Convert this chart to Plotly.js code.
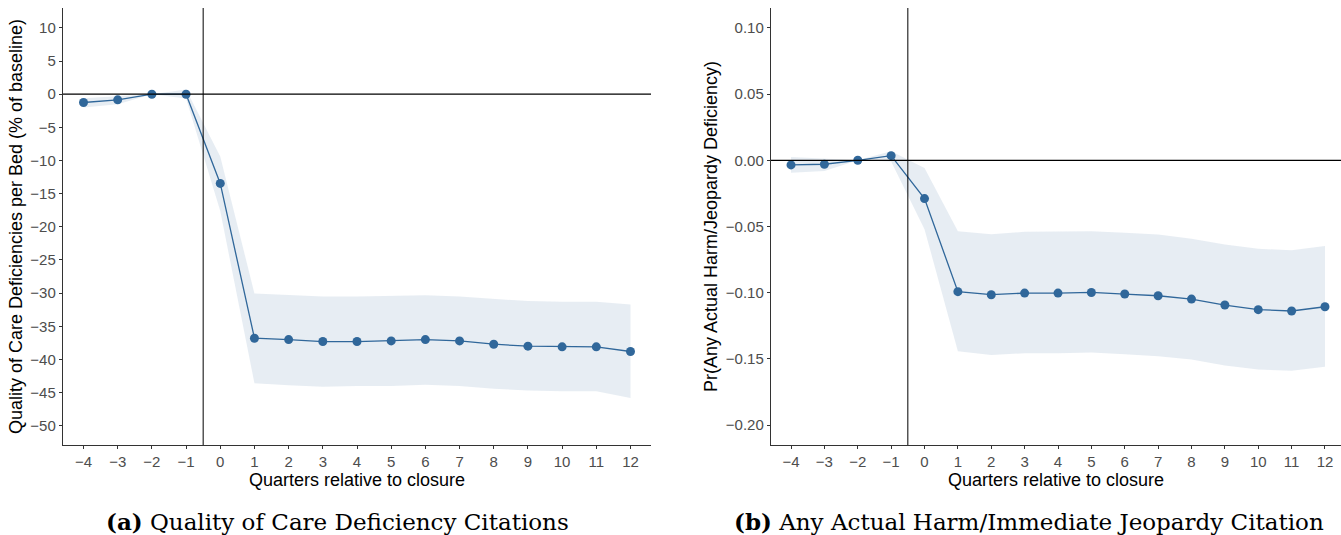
<!DOCTYPE html>
<html>
<head>
<meta charset="utf-8">
<script src="https://cdn.plot.ly/plotly-3.0.1.min.js"></script>
<style>html,body{margin:0;padding:0;background:#fff;}#chart{width:1341px;height:535px;}</style>
</head>
<body>
<div id="chart"></div>
<script>
// Event time (quarters relative to closure)
const quarters = [-4,-3,-2,-1,0,1,2,3,4,5,6,7,8,9,10,11,12];

// Panel (a): Quality of care deficiencies per bed (% of baseline)
const qocEst   = [-1.25,-0.85,0,0,-13.45,-36.8,-37.0,-37.3,-37.3,-37.2,-37.0,-37.2,-37.7,-38.0,-38.1,-38.1,-38.8];
const qocUpper = [-0.6,-0.3,0,0.7,-9.4,-30.05,-30.3,-30.5,-30.5,-30.4,-30.3,-30.5,-30.9,-31.2,-31.3,-31.3,-31.7];
const qocLower = [-2.0,-1.5,0,-0.65,-17.6,-43.6,-43.9,-44.1,-44.0,-44.0,-43.8,-44.0,-44.4,-44.7,-44.8,-44.8,-45.8];

// Panel (b): Pr(any actual harm / jeopardy deficiency)
const harmEst   = [-0.0035,-0.003,0,0.0035,-0.0289,-0.0992,-0.1015,-0.1003,-0.1003,-0.0998,-0.101,-0.1023,-0.1048,-0.1093,-0.1128,-0.1138,-0.1106];
const harmUpper = [0.0025,0.001,0,0.0068,-0.0058,-0.0535,-0.0558,-0.054,-0.0535,-0.0535,-0.0548,-0.056,-0.0593,-0.0636,-0.0668,-0.068,-0.0648];
const harmLower = [-0.0095,-0.008,0,-0.001,-0.052,-0.1442,-0.147,-0.1457,-0.1457,-0.1452,-0.1465,-0.148,-0.1505,-0.155,-0.158,-0.159,-0.156];

const leftTicks = [10,5,0,-5,-10,-15,-20,-25,-30,-35,-40,-45,-50];
const rightTicks = [0.10,0.05,0.00,-0.05,-0.10,-0.15,-0.20];

const lineCol = '#30679a';
const bandCol = 'rgba(196,211,224,0.4)';

function panel(est, up, lo, xa, ya) {
  return [
    {x: quarters, y: up, xaxis: xa, yaxis: ya, mode: 'lines', line: {width: 0, color: bandCol}, hoverinfo: 'skip', showlegend: false},
    {x: quarters, y: lo, xaxis: xa, yaxis: ya, mode: 'lines', fill: 'tonexty', fillcolor: bandCol, line: {width: 0, color: bandCol}, hoverinfo: 'skip', showlegend: false},
    {x: quarters, y: est, xaxis: xa, yaxis: ya, mode: 'lines+markers', line: {color: lineCol, width: 1.3}, marker: {color: lineCol, size: 9}, showlegend: false}
  ];
}

const data = panel(qocEst, qocUpper, qocLower, 'x', 'y').concat(panel(harmEst, harmUpper, harmLower, 'x2', 'y2'));

const tickFont = {family: 'Liberation Sans, Arial, sans-serif', size: 15, color: '#4d4d4d'};
const titleFont = {family: 'Liberation Sans, Arial, sans-serif', size: 18, color: '#000'};
const yDom = [1 - 445/535, 1 - 8/535];

function xAxis(dom, range, anchor) {
  return {domain: dom, range: range, anchor: anchor, tickmode: 'array', tickvals: quarters, ticktext: quarters.map(v => v < 0 ? '\u2212' + Math.abs(v) : String(v)),
    showgrid: false, zeroline: false, showline: true, linecolor: '#333', linewidth: 1.2, ticks: 'outside', ticklen: 3, tickcolor: '#333',
    tickfont: tickFont, title: {text: 'Quarters relative to closure', font: titleFont, standoff: 0}};
}
function yAxis(range, ticks, fmt, title, anchor) {
  return {domain: yDom, range: range, anchor: anchor, tickmode: 'array', tickvals: ticks,
    ticktext: ticks.map(v => (v < 0 ? '\u2212' : '') + (fmt ? Math.abs(v).toFixed(2) : String(Math.abs(v)))),
    showgrid: false, zeroline: false, showline: true, linecolor: '#333', linewidth: 1.2, ticks: 'outside', ticklen: 3, tickcolor: '#333',
    tickfont: tickFont, title: {text: title, font: titleFont, standoff: 3}};
}

const layout = {
  width: 1341, height: 535,
  margin: {l: 0, r: 0, t: 0, b: 0},
  paper_bgcolor: '#fff', plot_bgcolor: '#fff',
  xaxis: xAxis([63/1341, 651/1341], [-4.6, 12.6], 'y'),
  yaxis: yAxis([-52.9, 13.0], leftTicks, false, 'Quality of Care Deficiencies per Bed (% of baseline)', 'x'),
  xaxis2: xAxis([771/1341, 1], [-4.6, 12.48], 'y2'),
  yaxis2: yAxis([-0.215, 0.115], rightTicks, true, 'Pr(Any Actual Harm/Jeopardy Deficiency)', 'x2'),
  shapes: [
    {type: 'line', xref: 'x', yref: 'y', x0: -4.6, x1: 12.6, y0: 0, y1: 0, line: {color: '#000', width: 1.2}},
    {type: 'line', xref: 'x', yref: 'y', x0: -0.5, x1: -0.5, y0: -52.9, y1: 13.0, line: {color: '#000', width: 1}},
    {type: 'line', xref: 'x2', yref: 'y2', x0: -4.6, x1: 12.48, y0: 0, y1: 0, line: {color: '#000', width: 1.2}},
    {type: 'line', xref: 'x2', yref: 'y2', x0: -0.5, x1: -0.5, y0: -0.215, y1: 0.115, line: {color: '#000', width: 1}}
  ],
  annotations: [
    {xref: 'paper', yref: 'paper', x: 337/1341, y: 1 - 521/535, xanchor: 'center', yanchor: 'middle', showarrow: false,
     text: '<b>(a)</b> Quality of Care Deficiency Citations', font: {family: 'DejaVu Serif, Liberation Serif, serif', size: 23, color: '#000'}},
    {xref: 'paper', yref: 'paper', x: 1029/1341, y: 1 - 521/535, xanchor: 'center', yanchor: 'middle', showarrow: false,
     text: '<b>(b)</b> Any Actual Harm/Immediate Jeopardy Citation', font: {family: 'DejaVu Serif, Liberation Serif, serif', size: 23, color: '#000'}}
  ]
};

Plotly.newPlot('chart', data, layout, {displayModeBar: false, staticPlot: true});
</script>
</body>
</html>
